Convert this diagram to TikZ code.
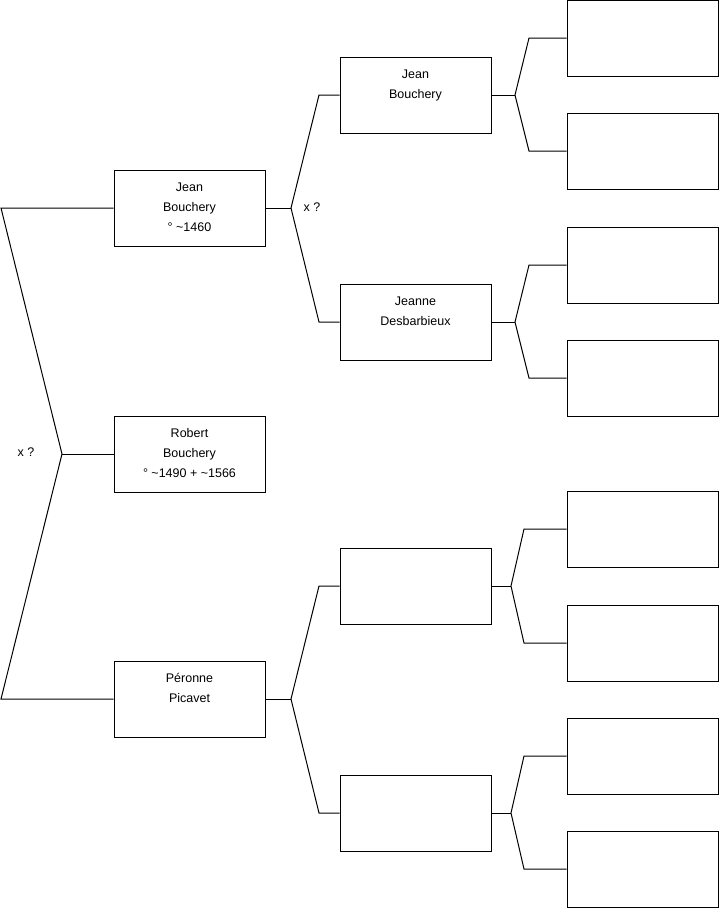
\documentclass[tikz,border=0pt]{standalone}
\usepackage{fontspec}
\setmainfont{Liberation Sans}
\begin{document}
\begin{tikzpicture}[x=1pt,y=-1pt,line width=1pt,
  pbox/.style={draw,minimum width=151pt,minimum height=76pt,inner sep=0pt},
  ptext/.style={anchor=north,align=center,inner sep=0pt,font=\fontsize{12.5}{20}\selectfont,yshift=-12.5pt},
  mark label/.style={inner sep=0pt,font=\fontsize{12.5}{15}\selectfont}]
\useasboundingbox (0,0) rectangle (719,908);
% first generation
\node[pbox] (jean) at (189.5,208){};
\node[ptext] (jeant) at (jean.north){Jean\\Bouchery\\° \textasciitilde1460};
\node[pbox] (robert) at (189.5,454){};
\node[ptext] (robertt) at (robert.north){Robert\\Bouchery\\° \textasciitilde1490 + \textasciitilde1566};
\node[pbox] (peronne) at (189.5,699){};
\node[ptext] (peronnet) at (peronne.north){Péronne\\Picavet};
% second generation
\node[pbox] (jeanb) at (415.5,95){};
\node[ptext] (jeanbt) at (jeanb.north){Jean\\Bouchery};
\node[pbox] (jeanne) at (415.5,322){};
\node[ptext] (jeannet) at (jeanne.north){Jeanne\\Desbarbieux};
\node[pbox] (gpc) at (415.5,586){};
\node[pbox] (gpd) at (415.5,813){};
% third generation
\node[pbox] (ga) at (642.5,38){};
\node[pbox] (gb) at (642.5,151){};
\node[pbox] (gc) at (642.5,265){};
\node[pbox] (gd) at (642.5,378){};
\node[pbox] (ge) at (642.5,529){};
\node[pbox] (gf) at (642.5,643){};
\node[pbox] (gg) at (642.5,756){};
\node[pbox] (gh) at (642.5,869){};
% marriage marks
\node[mark label] (xqa) at (26,452){x ?};
\node[mark label] (xqb) at (312,207){x ?};
% left bracket
\coordinate (la) at (1,208);
\coordinate (lb) at (62,454);
\coordinate (lc) at (1,699);
\draw (jean.west) -- (la) -- (lb) -- (lc) -- (peronne.west);
\draw (lb) -- (robert.west);
% brackets of the second generation
\coordinate (ua) at (291,208);
\draw (jean.east) -- (ua);
\draw (jeanb.west) -- (319,95) -- (ua) -- (319,322) -- (jeanne.west);
\coordinate (da) at (291,699);
\draw (peronne.east) -- (da);
\draw (gpc.west) -- (319,586) -- (da) -- (319,813) -- (gpd.west);
% brackets of the third generation
\coordinate (ra) at (515,95);
\draw (jeanb.east) -- (ra);
\draw (ga.west) -- (529,38) -- (ra) -- (529,151) -- (gb.west);
\coordinate (rb) at (515,322);
\draw (jeanne.east) -- (rb);
\draw (gc.west) -- (529,265) -- (rb) -- (529,378) -- (gd.west);
\coordinate (rc) at (511,586);
\draw (gpc.east) -- (rc);
\draw (ge.west) -- (524,529) -- (rc) -- (524,643) -- (gf.west);
\coordinate (rd) at (511,813);
\draw (gpd.east) -- (rd);
\draw (gg.west) -- (524,756) -- (rd) -- (524,869) -- (gh.west);
\end{tikzpicture}
\end{document}
